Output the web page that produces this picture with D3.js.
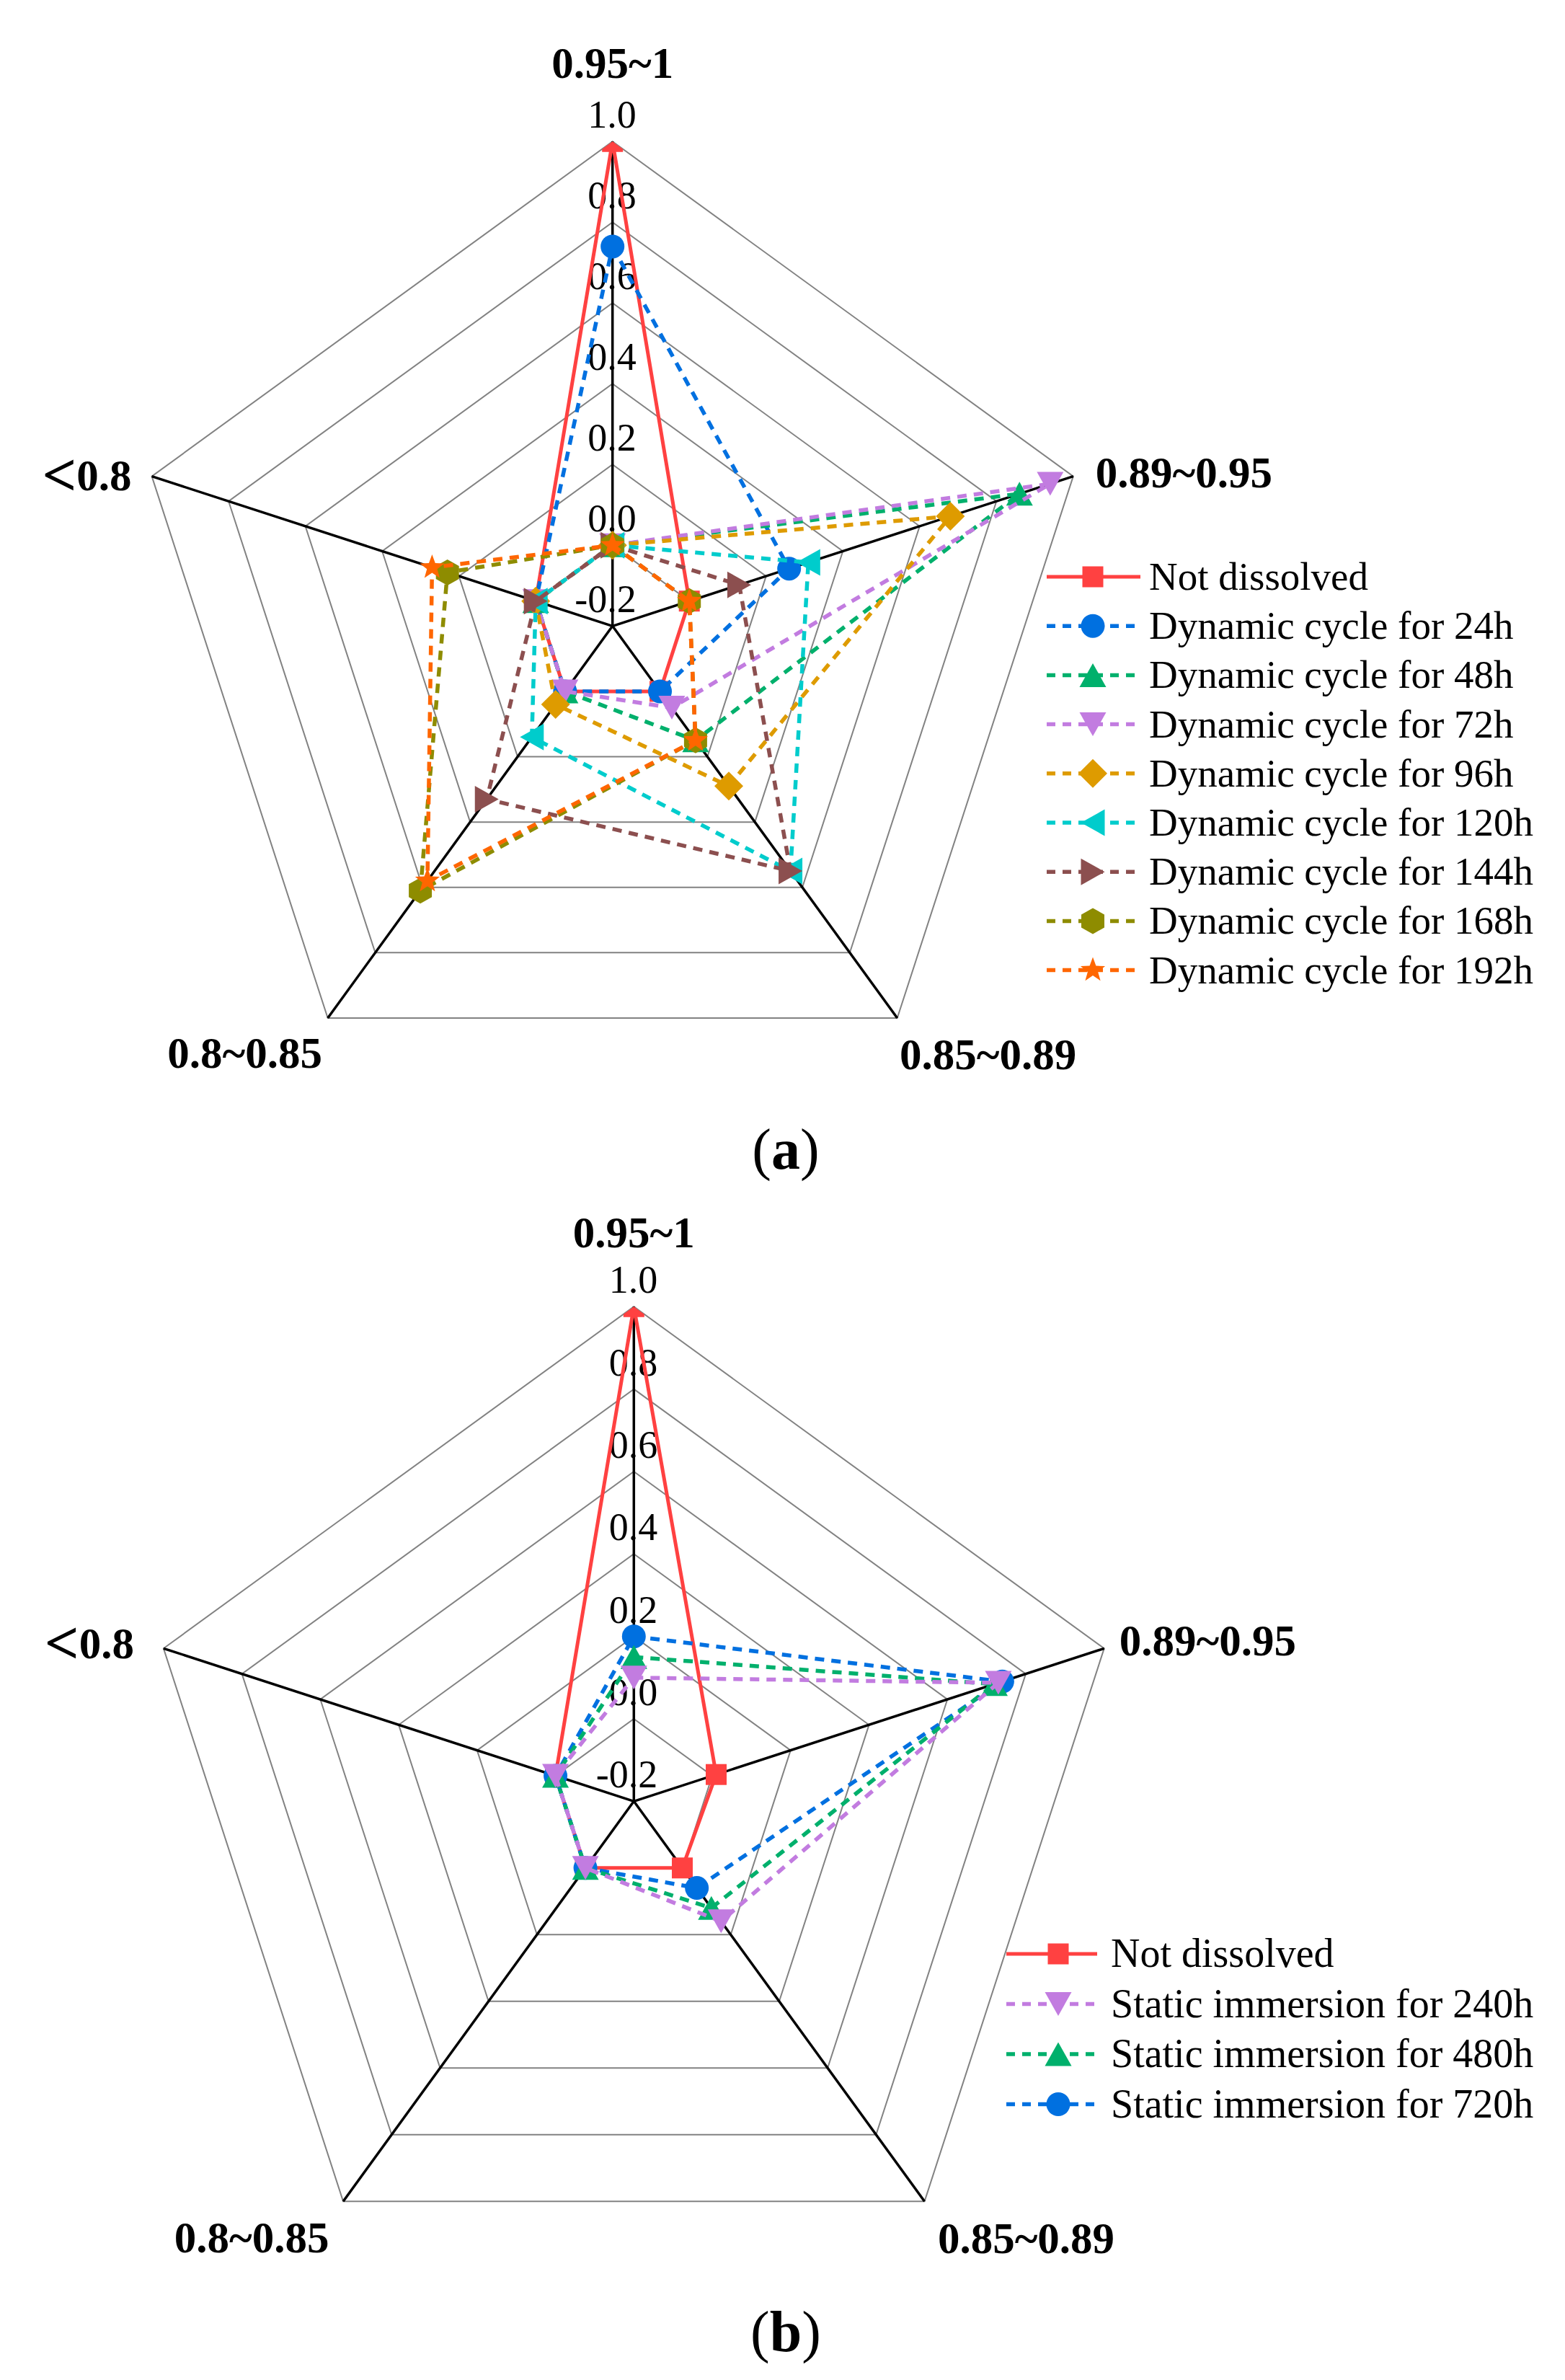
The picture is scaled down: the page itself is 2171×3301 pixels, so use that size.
<!DOCTYPE html>
<html><head><meta charset="utf-8">
<script src="https://cdn.jsdelivr.net/npm/d3@7"></script>
<style>html,body{margin:0;padding:0;background:#fff;} svg{display:block;}</style>
</head><body>
<script>
// ---------- DATA ----------
const categories = ["0.95~1", "0.89~0.95", "0.85~0.89", "0.8~0.85", "<0.8"];
const tickValues = [-0.2, 0, 0.2, 0.4, 0.6, 0.8, 1.0];
const tickLabels = ["-0.2", "0.0", "0.2", "0.4", "0.6", "0.8", "1.0"];

// Panel (a)
const seriesNamesA = ["Not dissolved", "Dynamic cycle for 24h", "Dynamic cycle for 48h",
  "Dynamic cycle for 72h", "Dynamic cycle for 96h", "Dynamic cycle for 120h",
  "Dynamic cycle for 144h", "Dynamic cycle for 168h", "Dynamic cycle for 192h"];
const notDissolvedA = [1.00, 0.00, 0.00, 0.00, 0.00];
const dynamic24h  = [0.74, 0.26, 0.00, 0.00, 0.00];
const dynamic48h  = [0.00, 0.86, 0.15, 0.00, 0.00];
const dynamic72h  = [0.00, 0.94, 0.05, 0.00, 0.00];
const dynamic96h  = [0.00, 0.68, 0.29, 0.04, 0.00];
const dynamic120h = [0.00, 0.31, 0.55, 0.14, 0.00];
const dynamic144h = [0.00, 0.13, 0.55, 0.33, 0.00];
const dynamic168h = [0.00, 0.00, 0.15, 0.61, 0.23];
const dynamic192h = [0.00, 0.00, 0.15, 0.58, 0.27];

// Panel (b)
const seriesNamesB = ["Not dissolved", "Static immersion for 240h",
  "Static immersion for 480h", "Static immersion for 720h"];
const notDissolvedB = [1.00, 0.01, 0.00, 0.00, 0.00];
const static240h = [0.10, 0.73, 0.16, 0.00, 0.00];
const static480h = [0.15, 0.72, 0.12, 0.00, 0.00];
const static720h = [0.20, 0.74, 0.06, 0.00, 0.00];

// ---------- STYLES ----------
const C = {red:"#FF4141", blue:"#0070E0", green:"#00B06C", purple:"#C27CE0",
  gold:"#DE9B00", cyan:"#00CCCC", brown:"#8C4F4F", olive:"#8E8C00", orange:"#FF6600"};

const seriesA = [
  {name: seriesNamesA[0], values: notDissolvedA, color: C.red, marker: "square", dashed: false},
  {name: seriesNamesA[1], values: dynamic24h, color: C.blue, marker: "circle", dashed: true},
  {name: seriesNamesA[2], values: dynamic48h, color: C.green, marker: "triUp", dashed: true},
  {name: seriesNamesA[3], values: dynamic72h, color: C.purple, marker: "triDown", dashed: true},
  {name: seriesNamesA[4], values: dynamic96h, color: C.gold, marker: "diamond", dashed: true},
  {name: seriesNamesA[5], values: dynamic120h, color: C.cyan, marker: "triLeft", dashed: true},
  {name: seriesNamesA[6], values: dynamic144h, color: C.brown, marker: "triRight", dashed: true},
  {name: seriesNamesA[7], values: dynamic168h, color: C.olive, marker: "hexagon", dashed: true},
  {name: seriesNamesA[8], values: dynamic192h, color: C.orange, marker: "star", dashed: true}
];
const seriesB = [
  {name: seriesNamesB[0], values: notDissolvedB, color: C.red, marker: "square", dashed: false},
  {name: seriesNamesB[1], values: static240h, color: C.purple, marker: "triDown", dashed: true},
  {name: seriesNamesB[2], values: static480h, color: C.green, marker: "triUp", dashed: true},
  {name: seriesNamesB[3], values: static720h, color: C.blue, marker: "circle", dashed: true}
];
// drawing order of (b): later series on top
const drawOrderB = [0, 3, 2, 1];

// ---------- MARKERS ----------
function markerPath(type) {
  const p = d3.path();
  if (type === "square") { const s = 14.5; p.rect(-s, -s, 2*s, 2*s); }
  else if (type === "circle") { p.arc(0, 0, 16.5, 0, 2*Math.PI); }
  else if (type === "triUp") { p.moveTo(0,-16.5); p.lineTo(18.5,16.5); p.lineTo(-18.5,16.5); p.closePath(); }
  else if (type === "triDown") { p.moveTo(0,16.5); p.lineTo(18.5,-16.5); p.lineTo(-18.5,-16.5); p.closePath(); }
  else if (type === "triLeft") { p.moveTo(-16.5,0); p.lineTo(16.5,-18.5); p.lineTo(16.5,18.5); p.closePath(); }
  else if (type === "triRight") { p.moveTo(16.5,0); p.lineTo(-16.5,-18.5); p.lineTo(-16.5,18.5); p.closePath(); }
  else if (type === "diamond") { const s = 20; p.moveTo(0,-s); p.lineTo(s,0); p.lineTo(0,s); p.lineTo(-s,0); p.closePath(); }
  else if (type === "hexagon") { const w = 16, h = 18;
    p.moveTo(0,-h); p.lineTo(w,-h/2); p.lineTo(w,h/2); p.lineTo(0,h); p.lineTo(-w,h/2); p.lineTo(-w,-h/2); p.closePath(); }
  else if (type === "star") { const ro = 18, ri = 7.5;
    for (let k = 0; k < 10; k++) { const a = k*Math.PI/5; const r = k%2 ? ri : ro;
      const x = r*Math.sin(a), y = -r*Math.cos(a); k ? p.lineTo(x,y) : p.moveTo(x,y); }
    p.closePath(); }
  return p.toString();
}

const W = 2171, H = 3301;
const svg = d3.select("body").append("svg").attr("width", W).attr("height", H)
  .style("font-family", "'Liberation Serif','Times New Roman',serif");
svg.append("rect").attr("width", W).attr("height", H).attr("fill", "#fff");
const defs = svg.append("defs");

const DASH = "13,10";

function drawRadar(cfg) {
  const g = svg.append("g").attr("transform", `translate(${cfg.cx},${cfg.cy})`);
  const r = d3.scaleLinear().domain([tickValues[0], tickValues[tickValues.length-1]]).range([0, cfg.R]);
  const n = categories.length;
  const ang = i => i * 2 * Math.PI / n;
  const radial = d3.lineRadial().angle((d, i) => ang(i)).radius(d => r(d)).curve(d3.curveLinearClosed);
  const maxV = tickValues[tickValues.length-1];

  // plot-area clip (outer pentagon)
  defs.append("clipPath").attr("id", "clip-" + cfg.panel)
    .append("path").attr("d", radial(categories.map(() => maxV)));

  // tick labels (under everything)
  g.selectAll("text.tick").data(tickValues).join("text")
    .attr("class", "tick")
    .attr("x", 33).attr("y", d => -r(d) - 19)
    .attr("text-anchor", "end").attr("font-size", 54).attr("fill", "#000")
    .text((d, i) => tickLabels[i]);

  // grid rings
  g.selectAll("path.ring").data(tickValues.slice(1)).join("path")
    .attr("class", "ring")
    .attr("d", v => radial(categories.map(() => v)))
    .attr("fill", "none").attr("stroke", "#828282").attr("stroke-width", 2);

  // axes
  g.selectAll("line.axis").data(categories).join("line")
    .attr("class", "axis")
    .attr("x1", 0).attr("y1", 0)
    .attr("x2", (d, i) => d3.pointRadial(ang(i), cfg.R)[0])
    .attr("y2", (d, i) => d3.pointRadial(ang(i), cfg.R)[1])
    .attr("stroke", "#000").attr("stroke-width", 3.5);

  // category labels
  g.selectAll("text.cat").data(categories).join("text")
    .attr("class", "cat")
    .attr("x", (d, i) => d3.pointRadial(ang(i), cfg.R)[0] + cfg.catOff[i][0])
    .attr("y", (d, i) => d3.pointRadial(ang(i), cfg.R)[1] + cfg.catOff[i][1])
    .attr("text-anchor", (d, i) => cfg.catAnchor[i])
    .attr("font-size", 61).attr("font-weight", "bold").attr("fill", "#000")
    .each(function(d) {
      const t = d3.select(this);
      if (d.startsWith("<")) {
        t.append("tspan").attr("font-size", 84).attr("dy", 7).text("<");
        t.append("tspan").attr("dy", -7).text(d.slice(1));
      } else t.text(d);
    });

  // series
  const sg = g.append("g").attr("clip-path", `url(#clip-${cfg.panel})`);
  cfg.order.forEach(si => {
    const s = cfg.series[si];
    sg.append("path").attr("d", radial(s.values))
      .attr("fill", "none").attr("stroke", s.color).attr("stroke-width", s.dashed ? 5.5 : 5)
      .attr("stroke-dasharray", s.dashed ? DASH : null)
      .attr("stroke-linejoin", "round");
    sg.selectAll(null).data(s.values).join("path")
      .attr("d", markerPath(s.marker))
      .attr("transform", (v, i) => { const p = d3.pointRadial(ang(i), r(v)); return `translate(${p[0]},${p[1]})`; })
      .attr("fill", s.color);
  });

  // legend
  const lg = svg.append("g");
  cfg.series.forEach((s, i) => {
    const y = cfg.legY + i * cfg.legDy;
    lg.append("line").attr("x1", cfg.legX1).attr("x2", cfg.legX2).attr("y1", y).attr("y2", y)
      .attr("stroke", s.color).attr("stroke-width", s.dashed ? 5.5 : 5)
      .attr("stroke-dasharray", s.dashed ? "12,10" : null);
    lg.append("path").attr("d", markerPath(s.marker))
      .attr("transform", `translate(${cfg.legMx},${y})`).attr("fill", s.color);
    lg.append("text").attr("x", cfg.legTx).attr("y", y + 18)
      .attr("font-size", cfg.legFont).attr("fill", "#000").text(s.name);
  });

  // panel label
  const t = svg.append("text").attr("x", cfg.panelX).attr("y", cfg.panelY)
    .attr("text-anchor", "middle").attr("font-size", 80).attr("fill", "#000");
  t.append("tspan").text("(");
  t.append("tspan").attr("font-weight", "bold").text(cfg.panel);
  t.append("tspan").text(")");
}

drawRadar({
  cx: 849.7, cy: 868.3, R: 672, series: seriesA, order: d3.range(seriesA.length),
  catOff: [[0, -88], [31, 15], [126, 71], [-115, 69], [-28, 19]],
  catAnchor: ["middle", "start", "middle", "middle", "end"],
  legY: 800, legDy: 68.2, legX1: 1452, legX2: 1582, legMx: 1516, legTx: 1594, legFont: 55,
  panel: "a", panelX: 1090, panelY: 1621
});

drawRadar({
  cx: 879.3, cy: 2498.3, R: 686, series: seriesB, order: drawOrderB,
  catOff: [[0, -82], [21, 10], [141, 72], [-127, 71], [-41, 14]],
  catAnchor: ["middle", "start", "middle", "middle", "end"],
  legY: 2710, legDy: 69.5, legX1: 1396, legX2: 1522, legMx: 1468, legTx: 1541, legFont: 56,
  panel: "b", panelX: 1090, panelY: 3261
});
</script>
</body></html>
